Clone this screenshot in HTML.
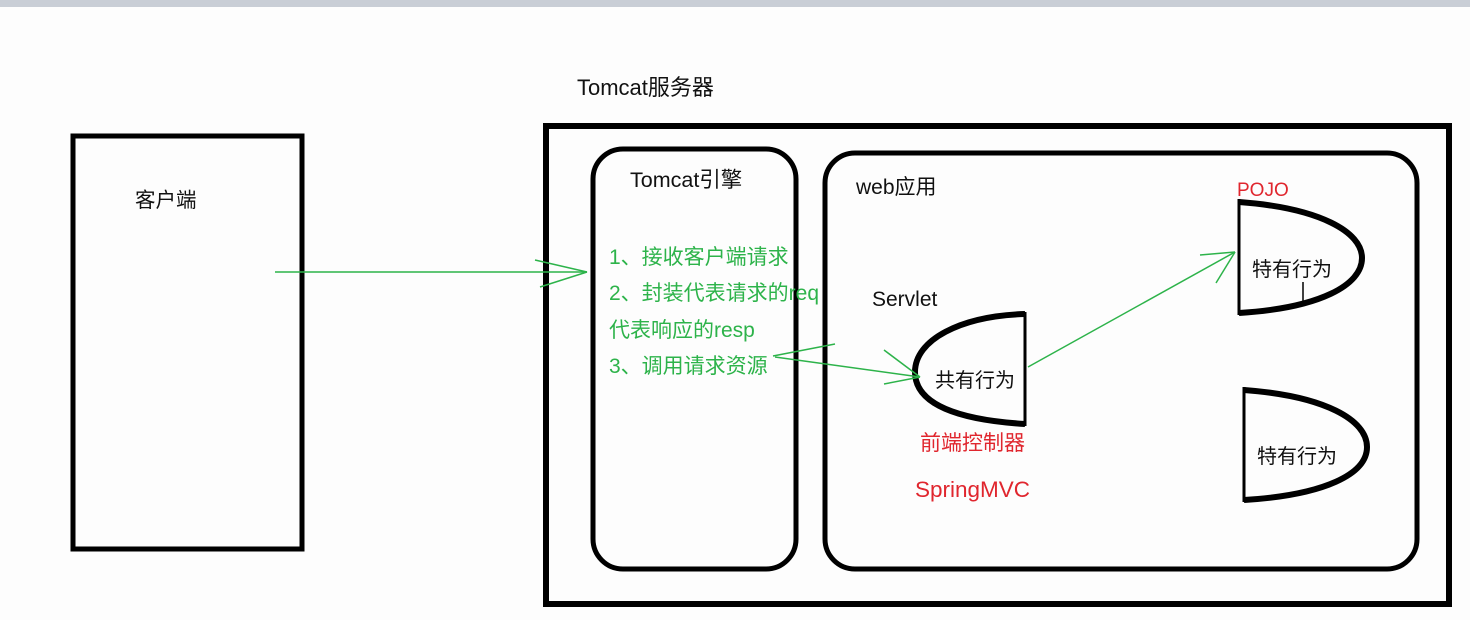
<!DOCTYPE html>
<html><head><meta charset="utf-8"><style>
html,body{margin:0;padding:0;background:#fff;}
svg{display:block}
text{font-family:"Liberation Sans","Noto Sans CJK SC",sans-serif;}
</style></head><body>
<svg width="1470" height="620" viewBox="0 0 1470 620">
<rect x="0" y="0" width="1470" height="620" fill="#fdfdfd"/>
<rect x="0" y="0" width="1470" height="7" fill="#c9ced6"/>
<g fill="none" stroke="#000">
<rect x="73" y="136" width="229" height="413" stroke-width="5"/>
<rect x="546" y="126" width="903" height="478" stroke-width="6"/>
<rect x="593" y="149" width="203" height="420" rx="30" stroke-width="5"/>
<rect x="825" y="153" width="592" height="416" rx="30" stroke-width="5"/>
<path d="M1025,314 C960,316 915,340 915,372 C915,405 960,420 1025,424" stroke-width="6"/>
<line x1="1025" y1="312" x2="1025" y2="426" stroke-width="3"/>
<path d="M1239,202 C1320,208 1362,232 1362,258 C1362,285 1320,308 1239,313" stroke-width="6"/>
<line x1="1239" y1="199" x2="1239" y2="315" stroke-width="3"/>
<path d="M1244,390 C1325,396 1367,420 1367,447 C1367,474 1325,495 1244,500" stroke-width="6"/>
<line x1="1244" y1="387" x2="1244" y2="502" stroke-width="3"/>
<line x1="1303" y1="282" x2="1303" y2="303" stroke-width="1.5"/>
</g>
<g stroke="#2db34a" stroke-width="1.5" fill="none">
<line x1="275" y1="272" x2="587" y2="272"/>
<line x1="535" y1="260" x2="587" y2="272"/>
<line x1="540" y1="287" x2="587" y2="272"/>
<line x1="775" y1="357" x2="920" y2="377"/>
<line x1="773" y1="356" x2="835" y2="344"/>
<line x1="884" y1="350" x2="920" y2="377"/>
<line x1="884" y1="384" x2="920" y2="377"/>
<line x1="1028" y1="367" x2="1235" y2="252"/>
<line x1="1200" y1="255" x2="1235" y2="252"/>
<line x1="1216" y1="283" x2="1235" y2="252"/>
</g>
<g fill="#111">
<text x="577" y="95" font-size="22">Tomcat服务器</text>
<text x="135" y="207" font-size="20.5">客户端</text>
<text x="630" y="187" font-size="21.5">Tomcat引擎</text>
<text x="856" y="194" font-size="21">web应用</text>
<text x="872" y="306" font-size="21">Servlet</text>
<text x="935" y="387" font-size="20">共有行为</text>
<text x="1252" y="276" font-size="20">特有行为</text>
<text x="1257" y="463" font-size="20">特有行为</text>
</g>
<g font-size="21" fill="#2db34a">
<text x="609" y="264">1、接收客户端请求</text>
<text x="609" y="300">2、封装代表请求的req</text>
<text x="609" y="337">代表响应的resp</text>
<text x="609" y="373">3、调用请求资源</text>
</g>
<g fill="#e0262e">
<text x="920" y="450" font-size="21">前端控制器</text>
<text x="915" y="497" font-size="22.5">SpringMVC</text>
<text x="1237" y="196" font-size="19">POJO</text>
</g>
</svg>
</body></html>
